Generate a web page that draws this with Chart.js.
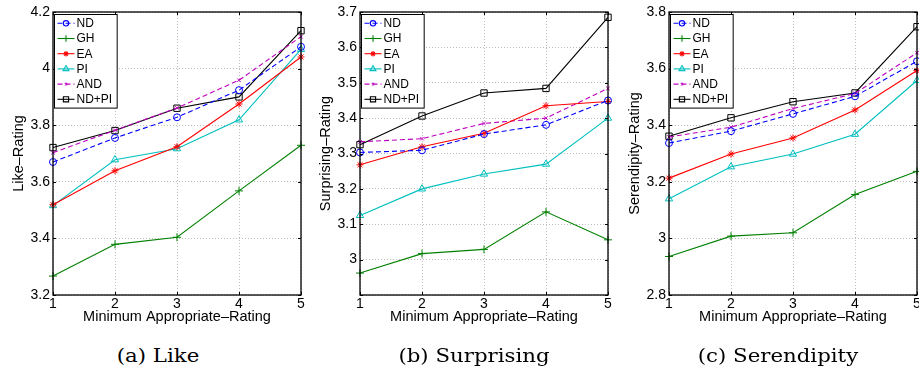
<!DOCTYPE html>
<html>
<head>
<meta charset="utf-8">
<script src="https://cdn.jsdelivr.net/npm/chart.js@4.4.0/dist/chart.umd.min.js"></script>
<style>
    html, body { margin: 0; padding: 0; background: #fff; overflow: hidden; }
    body { width: 919px; height: 374px; position: relative; }
    canvas { position: absolute; top: 0; }
    .caption {
        position: absolute; top: 344px; width: 200px; text-align: center;
        font-family: "DejaVu Serif", "Liberation Serif", serif; font-size: 19px; color: #000;
        transform: scaleX(1.12); transform-origin: center;
    }
</style>
</head>
<body>
<canvas id="likeChart" width="310" height="330" style="left:0px"></canvas>
<canvas id="surpriseChart" width="310" height="330" style="left:307px"></canvas>
<canvas id="serendipityChart" width="310" height="330" style="left:616px"></canvas>
<div class="caption" style="left:58px">(a) Like</div>
<div class="caption" style="left:374px">(b) Surprising</div>
<div class="caption" style="left:678px">(c) Serendipity</div>

<script>
// --- Data ---
const minRatings = ['1', '2', '3', '4', '5'];
const methods = ['ND', 'GH', 'EA', 'PI', 'AND', 'ND+PI'];

// Like-Rating
const likeND   = [3.670, 3.755, 3.828, 3.924, 4.077];
const likeGH   = [3.267, 3.379, 3.404, 3.568, 3.729];
const likeEA   = [3.519, 3.639, 3.724, 3.875, 4.041];
const likePI   = [3.516, 3.678, 3.717, 3.819, 4.068];
const likeAND  = [3.703, 3.782, 3.861, 3.959, 4.113];
const likeNDPI = [3.721, 3.781, 3.860, 3.900, 4.134];

// Surprising-Rating
const surpND   = [3.303, 3.309, 3.355, 3.381, 3.450];
const surpGH   = [2.962, 3.017, 3.029, 3.135, 3.056];
const surpEA   = [3.268, 3.319, 3.357, 3.435, 3.447];
const surpPI   = [3.125, 3.200, 3.242, 3.270, 3.400];
const surpAND  = [3.333, 3.342, 3.385, 3.400, 3.484];
const surpNDPI = [3.325, 3.406, 3.471, 3.484, 3.685];

// Serendipity-Rating
const serND   = [3.337, 3.379, 3.440, 3.502, 3.626];
const serGH   = [2.936, 3.008, 3.020, 3.155, 3.237];
const serEA   = [3.213, 3.298, 3.355, 3.454, 3.593];
const serPI   = [3.140, 3.253, 3.298, 3.368, 3.558];
const serAND  = [3.358, 3.393, 3.459, 3.512, 3.656];
const serNDPI = [3.361, 3.426, 3.483, 3.514, 3.748];

// matlab-ish line styles, one per method
const styles = [
    { color: '#0000ff', dash: [5, 3], point: 'circle',   radius: 3.5 },
    { color: '#008000', dash: [],     point: 'cross',    radius: 4 },
    { color: '#ff0000', dash: [],     point: 'star',     radius: 3.5 },
    { color: '#00bfbf', dash: [],     point: 'triangle', radius: 4.2 },
    { color: '#bf00bf', dash: [5, 3], point: 'crossRot', radius: 2.5 },
    { color: '#000000', dash: [],     point: 'rect',     radius: 4.5 }
];

const sansFont = '"Liberation Sans", Arial, sans-serif';

// --- Plugins ---

// box around the plot + inward tick marks
const boxPlugin = {
    id: 'box',
    afterDraw(chart) {
        const { ctx, chartArea: a, scales } = chart;
        ctx.save();
        ctx.strokeStyle = '#000';
        ctx.lineWidth = 1;
        ctx.beginPath();
        scales.x.ticks.forEach((t, i) => {
            const px = Math.round(scales.x.getPixelForTick(i)) + 0.5;
            ctx.moveTo(px, a.bottom); ctx.lineTo(px, a.bottom - 3);
            ctx.moveTo(px, a.top); ctx.lineTo(px, a.top + 3);
        });
        scales.y.ticks.forEach((t, i) => {
            const py = Math.round(scales.y.getPixelForTick(i)) + 0.5;
            ctx.moveTo(a.left, py); ctx.lineTo(a.left + 3, py);
            ctx.moveTo(a.right, py); ctx.lineTo(a.right - 3, py);
        });
        ctx.stroke();
        ctx.lineWidth = 1.3;
        ctx.strokeRect(a.left, a.top, a.right - a.left, a.bottom - a.top);
        ctx.restore();
    }
};

// legend box drawn inside the top-left corner, line sample + marker
const insideLegend = {
    id: 'insideLegend',
    afterDraw(chart) {
        const { ctx, chartArea: a } = chart;
        const sets = chart.data.datasets;
        ctx.save();
        ctx.font = '12px ' + sansFont;
        const textW = Math.max(...sets.map(d => ctx.measureText(d.label).width));
        const bx = a.left + 1.5, by = a.top + 2.5;
        const rowH = 15.2;
        const bw = 22 + textW + 5, bh = 8.8 * 2 + rowH * (sets.length - 1);
        ctx.fillStyle = '#fff';
        ctx.fillRect(bx, by, bw, bh);
        ctx.strokeStyle = '#000';
        ctx.lineWidth = 1;
        ctx.strokeRect(bx, by, bw, bh);

        sets.forEach((d, i) => {
            const y = by + 8.8 + i * rowH;
            ctx.strokeStyle = d.borderColor;
            ctx.lineWidth = d.borderWidth;
            ctx.setLineDash(d.borderDash || []);
            ctx.beginPath();
            ctx.moveTo(bx + 3, y); ctx.lineTo(bx + 20, y);
            ctx.stroke();
            ctx.setLineDash([]);
            ctx.fillStyle = 'rgba(0,0,0,0)';
            Chart.helpers.drawPoint(ctx, {
                pointStyle: d.pointStyle, rotation: 0,
                radius: d.pointRadius - 0.8, borderWidth: 1
            }, bx + 11.5, y);
            ctx.fillStyle = '#000';
            ctx.textBaseline = 'middle';
            ctx.fillText(d.label, bx + 22, y + 0.5);
        });
        ctx.restore();
    }
};

// --- Chart builder ---
const makeChart = (id, yTitle, series, yMin, yMax, step, hideBelow) => {
    const ctx = document.getElementById(id);
    new Chart(ctx, {
        type: 'line',
        data: {
            labels: minRatings,
            datasets: series.map((vals, i) => ({
                label: methods[i],
                data: vals,
                borderColor: styles[i].color,
                borderWidth: 1.1,
                borderDash: styles[i].dash,
                pointStyle: styles[i].point,
                pointRadius: styles[i].radius,
                pointBorderWidth: 1,
                pointBorderColor: styles[i].color,
                pointBackgroundColor: 'rgba(0,0,0,0)',
                tension: 0,
                fill: false
            }))
        },
        options: {
            responsive: false,
            animation: false,
            devicePixelRatio: 1,
            layout: { padding: { left: 0, right: 9, top: 12, bottom: 0 } },
            plugins: { legend: { display: false }, tooltip: { enabled: false } },
            scales: {
                x: {
                    type: 'category',
                    offset: false,
                    grid: { color: '#bdbdbd', drawTicks: false, lineWidth: 1 },
                    border: { display: false, dash: [1, 2] },
                    ticks: { color: '#000', padding: 1, maxRotation: 0, font: { family: sansFont, size: 14 } },
                    title: {
                        display: true, text: 'Minimum Appropriate–Rating', color: '#000',
                        font: { family: sansFont, size: 14.5 }, padding: { top: 0, bottom: 4 }
                    },
                    afterFit: s => { s.height = 35; }
                },
                y: {
                    min: yMin, max: yMax,
                    grid: { color: '#bdbdbd', drawTicks: false, lineWidth: 1 },
                    border: { display: false, dash: [1, 2] },
                    ticks: {
                        stepSize: step, color: '#000', padding: 3,
                        font: { family: sansFont, size: 14 },
                        callback: v => (hideBelow !== null && v < hideBelow) ? '' : String(Number(v.toFixed(1)))
                    },
                    title: {
                        display: true, text: yTitle, color: '#000',
                        font: { family: sansFont, size: 14.5 }, padding: { top: 10, bottom: 0 }
                    },
                    afterFit: s => { s.width = 53; }
                }
            }
        },
        plugins: [boxPlugin, insideLegend]
    });
};

const init = () => {
    makeChart('likeChart', 'Like–Rating',
        [likeND, likeGH, likeEA, likePI, likeAND, likeNDPI], 3.2, 4.2, 0.2, null);
    makeChart('surpriseChart', 'Surprising–Rating',
        [surpND, surpGH, surpEA, surpPI, surpAND, surpNDPI], 2.9, 3.7, 0.1, 2.95);
    makeChart('serendipityChart', 'Serendipity–Rating',
        [serND, serGH, serEA, serPI, serAND, serNDPI], 2.8, 3.8, 0.2, null);
};

document.addEventListener('DOMContentLoaded', init);
</script>
</body>
</html>
